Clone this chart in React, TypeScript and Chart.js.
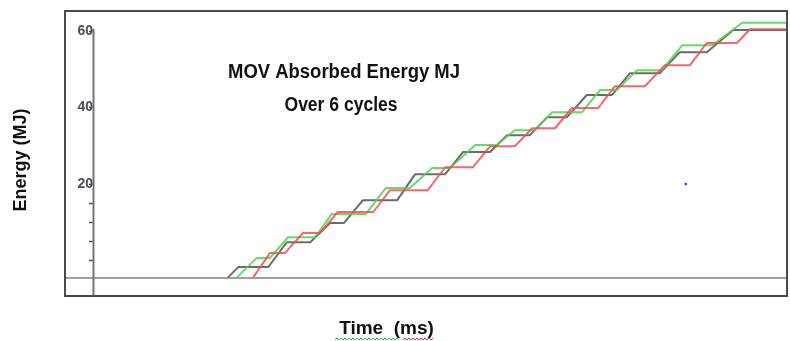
import { useEffect, useRef } from 'react';
import { Chart, registerables } from 'chart.js';

Chart.register(...registerables);

// ---- data (time in ms, energy in MJ) ----
const blackTime = [27.0, 28.7, 33.7, 36.8, 40.7, 44.0, 46.3, 49.5, 55.2, 58.2, 63.2, 66.2, 70.7, 73.5, 77.3, 80.2, 83.5, 86.8, 91.0, 94.0, 99.0, 102.3, 106.8, 111.2, 120];
const blackEnergy = [-4.4, -1.7, -1.7, 4.8, 4.8, 9.8, 9.8, 15.8, 15.8, 22.6, 22.6, 28.4, 28.4, 32.8, 32.8, 37.5, 37.5, 43.3, 43.3, 49.0, 49.0, 54.5, 54.5, 60.3, 60.3];

const greenTime = [28.5, 31.8, 34.0, 37.0, 41.5, 44.3, 50.0, 53.3, 57.3, 61.0, 64.0, 68.2, 71.8, 74.8, 78.2, 81.0, 86.0, 89.0, 91.8, 95.2, 99.3, 102.7, 107.7, 112.7, 120];
const greenEnergy = [-4.4, 0.7, 0.7, 6.1, 6.1, 12.2, 12.2, 19.0, 19.0, 24.2, 24.2, 30.2, 30.2, 34.1, 34.1, 38.8, 38.8, 44.6, 44.6, 49.8, 49.8, 56.3, 56.3, 62.2, 62.2];

const redTime = [31.2, 34.0, 36.5, 39.5, 42.3, 45.3, 51.2, 54.0, 60.3, 63.2, 67.8, 70.7, 74.8, 77.7, 81.5, 84.3, 88.7, 91.5, 96.5, 99.8, 104.0, 106.8, 111.8, 114.0, 120];
const redEnergy = [-4.4, 2.0, 2.0, 7.2, 7.2, 12.7, 12.7, 18.4, 18.4, 24.4, 24.4, 29.9, 29.9, 34.6, 34.6, 39.9, 39.9, 45.6, 45.6, 51.1, 51.1, 56.9, 56.9, 60.5, 60.5];

const markerTime = [103.3];
const markerEnergy = [20.0];

const yTickValues = [0, 5, 10, 15, 20, 40, 60];
const yTickLabels = ['', '', '', '', '20', '40', '60'];

const titleLines = ['MOV Absorbed Energy MJ', 'Over 6 cycles'];
const xAxisTitle = 'Time  (ms)';
const yAxisTitle = 'Energy (MJ)';

const timeMin = 0;
const timeMax = 120;
const energyMin = -9;
const energyMax = 65;
const axisTime = 4.5;
const baselineEnergy = -4.5;

const pts = (t: number[], e: number[]) => t.map((x, i) => ({ x, y: e[i] }));

const decorPlugin = {
  id: 'decor',
  afterDraw(chart: any) {
    const { ctx, chartArea: a, scales } = chart;
    ctx.save();
    // frame
    ctx.strokeStyle = '#4a4a4a';
    ctx.lineWidth = 2;
    ctx.strokeRect(a.left - 1, a.top - 1, a.right - a.left + 2, a.bottom - a.top + 2);
    // vertical axis line
    const ax = Math.round(scales.x.getPixelForValue(axisTime)) + 0.5;
    ctx.strokeStyle = '#767676';
    ctx.lineWidth = 2;
    ctx.beginPath();
    ctx.moveTo(ax, scales.y.getPixelForValue(60.6));
    ctx.lineTo(ax, a.bottom);
    ctx.stroke();

    // titles
    ctx.fillStyle = '#111';
    ctx.textAlign = 'center';
    ctx.textBaseline = 'alphabetic';
    ctx.font = 'bold 20px "Liberation Sans", Arial, sans-serif';
    ctx.fillText(titleLines[0], 344, 78, 232);
    ctx.fillText(titleLines[1], 341, 111, 113);

    // x axis title
    ctx.font = 'bold 19px "Liberation Sans", Arial, sans-serif';
    ctx.fillText(xAxisTitle, 386.5, 334, 103);
    // spell-check squiggles under the axis title
    const squiggle = (x0: number, x1: number, y: number, color: string) => {
      ctx.strokeStyle = color;
      ctx.lineWidth = 1;
      ctx.beginPath();
      let up = true;
      ctx.moveTo(x0, y + 1);
      for (let x = x0 + 2; x <= x1; x += 2) {
        ctx.lineTo(x, up ? y - 1 : y + 1);
        up = !up;
      }
      ctx.stroke();
    };
    squiggle(335, 400, 339, '#3cb34a');
    squiggle(403, 434, 339, '#e23b3b');

    // y axis title
    ctx.save();
    ctx.translate(26, 160);
    ctx.rotate(-Math.PI / 2);
    ctx.font = 'bold 18px "Liberation Sans", Arial, sans-serif';
    ctx.fillText(yAxisTitle, 0, 0, 106);
    ctx.restore();
    ctx.restore();
  },
};

export default function App() {
  const ref = useRef<HTMLCanvasElement | null>(null);
  useEffect(() => {
    if (!ref.current) return;
    const common = {
      fill: false,
      pointRadius: 0,
      borderWidth: 2,
      tension: 0,
      borderJoinStyle: 'round' as const,
    };
    const chart = new Chart(ref.current, {
      type: 'line',
      data: {
        datasets: [
          { ...common, label: 'red', data: pts(redTime, redEnergy), borderColor: 'rgba(240,80,80,0.85)' },
          { ...common, label: 'green', data: pts(greenTime, greenEnergy), borderColor: 'rgba(80,210,80,0.85)' },
          { ...common, label: 'black', data: pts(blackTime, blackEnergy), borderColor: 'rgba(70,70,70,0.8)' },
          {
            label: 'marker',
            data: pts(markerTime, markerEnergy),
            showLine: false,
            pointRadius: 1.3,
            pointBackgroundColor: '#3a3aff',
            pointBorderWidth: 0,
          },
        ],
      },
      options: {
        animation: false,
        responsive: false,
        devicePixelRatio: 1,
        layout: { padding: { left: 66, top: 12, right: 3, bottom: 46 } },
        plugins: { legend: { display: false }, tooltip: { enabled: false }, title: { display: false } },
        scales: {
          x: {
            type: 'linear',
            min: timeMin,
            max: timeMax,
            position: { y: baselineEnergy } as any,
            grid: { display: false },
            ticks: { display: false },
            border: { display: true, color: '#a0a0a0', width: 2 },
          },
          y: {
            type: 'linear',
            min: energyMin,
            max: energyMax,
            position: { x: axisTime } as any,
            afterBuildTicks: (scale: any) => {
              scale.ticks = yTickValues.map((v) => ({ value: v }));
            },
            ticks: {
              padding: 0,
              color: '#4d4d55',
              font: { family: '"Liberation Sans", Arial, sans-serif', size: 14, weight: 'bold' },
              callback: (v: any) => {
                const i = yTickValues.indexOf(Number(v));
                return i >= 0 ? yTickLabels[i] : '';
              },
            },
            grid: { display: true, drawOnChartArea: false, drawTicks: true, tickLength: 4, tickColor: '#555', tickWidth: 1.5 },
            border: { display: false },
          },
        },
      },
      plugins: [decorPlugin],
    });
    return () => chart.destroy();
  }, []);
  return (
    <div style={{ position: 'fixed', left: 0, top: 0, width: 790, height: 341, background: '#fff' }}>
      <canvas ref={ref} width={790} height={341} style={{ width: 790, height: 341, display: 'block' }} />
    </div>
  );
}
